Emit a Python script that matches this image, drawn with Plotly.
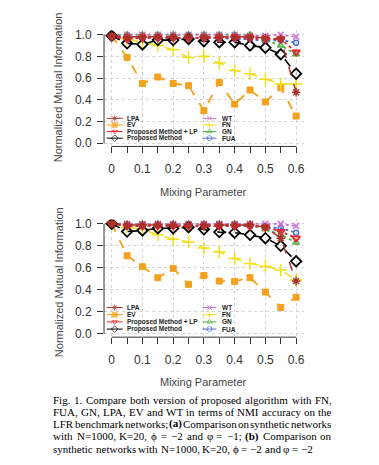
import plotly.graph_objects as go

# ---------------- data ----------------
mixing = [0, 0.05, 0.1, 0.15, 0.2, 0.25, 0.3, 0.35, 0.4, 0.45, 0.5, 0.55, 0.6]
x_tick_vals = [0, 0.1, 0.2, 0.3, 0.4, 0.5, 0.6]
x_tick_text = ["0", "0.1", "0.2", "0.3", "0.4", "0.5", "0.6"]
x_minor_vals = [0.05, 0.15, 0.25, 0.35, 0.45, 0.55]
y_tick_vals = [0, 0.2, 0.4, 0.6, 0.8, 1.0]
y_tick_text = ["0.0", "0.2", "0.4", "0.6", "0.8", "1.0"]

# (a) phi=-2, varphi=-1
a_lpa = [0.99, 0.98, 0.98, 0.98, 0.98, 0.98, 0.98, 0.98, 0.98, 0.98, 0.97, 0.96, 0.47]
a_ev = [0.99, 0.79, 0.55, 0.61, 0.55, 0.53, 0.30, 0.56, 0.36, 0.49, 0.38, 0.51, 0.25]
a_plp = [0.98, 0.96, 0.97, 0.97, 0.97, 0.97, 0.97, 0.97, 0.97, 0.97, 0.96, 0.96, 0.84]
a_pm = [0.99, 0.92, 0.91, 0.95, 0.95, 0.96, 0.94, 0.93, 0.93, 0.90, 0.88, 0.82, 0.64]
a_wt = [0.99, 1.0, 1.0, 1.0, 1.0, 1.0, 1.0, 1.0, 1.0, 0.99, 0.99, 1.0, 0.98]
a_fn = [0.99, 0.96, 0.93, 0.90, 0.86, 0.79, 0.80, 0.74, 0.67, 0.64, 0.59, 0.545, 0.545]
a_gn = [1.0, 1.0, 1.0, 1.0, 1.0, 1.0, 1.0, 1.0, 1.0, 1.0, 0.95, 0.90, 0.82]
a_fua = [0.98, 0.97, 0.97, 0.97, 0.97, 0.97, 0.97, 0.97, 0.96, 0.96, 0.94, 0.95, 0.925]

# (b) phi=-2, varphi=-2
b_lpa = [1.0, 0.99, 0.99, 0.99, 0.99, 0.99, 0.99, 0.99, 0.99, 0.99, 0.97, 0.87, 0.48]
b_ev = [1.0, 0.71, 0.61, 0.51, 0.595, 0.45, 0.53, 0.48, 0.477, 0.51, 0.38, 0.24, 0.333]
b_plp = [1.0, 0.98, 0.98, 0.98, 0.98, 0.98, 0.98, 0.98, 0.98, 0.98, 0.97, 0.93, 0.87]
b_pm = [1.0, 0.93, 0.94, 0.96, 0.96, 0.97, 0.95, 0.925, 0.92, 0.90, 0.87, 0.80, 0.66]
b_wt = [1.0, 1.0, 1.0, 1.0, 1.0, 1.0, 1.0, 1.0, 1.0, 1.0, 1.0, 1.0, 0.98]
b_fn = [1.0, 0.97, 0.95, 0.90, 0.86, 0.835, 0.78, 0.745, 0.685, 0.64, 0.615, 0.58, 0.49]
b_gn = [1.0, 1.0, 1.0, 1.0, 1.0, 1.0, 1.0, 1.0, 1.0, 1.0, 0.95, 0.90, 0.83]
b_fua = [0.99, 0.99, 0.99, 0.99, 0.99, 0.99, 0.99, 0.99, 0.99, 0.98, 0.97, 0.96, 0.92]

series_names = ["LPA", "EV", "Proposed Method + LP", "Proposed Method", "WT", "FN", "GN", "FUA"]
caption_lines = [
    "Fig. 1. Compare both version of proposed algorithm with FN,",
    "FUA, GN, LPA, EV and WT in terms of NMI accuracy on the",
    "LFR benchmark networks; <b>(a)</b> Comparison on synthetic networks",
    "with N=1000, K=20, ϕ = −2 and φ = −1; <b>(b)</b> Comparison on",
    "synthetic networks with N=1000, K=20, ϕ = −2 and φ = −2",
]

# ---------------- geometry (page has an 8px body margin) ----------------
OFF = 8
W, H = 379 - 2 * OFF, 465 - 2 * OFF

def fx(x):
    return (x - OFF) / W

def fy(y):
    return 1 - (y - OFF) / H

# ---------------- styles ----------------
STY = {
    "LPA": dict(color="#A8322B", symbol="asterisk-open", size=7, mlw=1.5, dash="dash", lw=1.5),
    "EV": dict(color="#F4A21E", symbol="square", size=6, mlw=1, dash="dash", lw=1.8),
    "Proposed Method + LP": dict(color="#E8262C", symbol="triangle-down-open", size=7, mlw=1.8, dash="dot", lw=1.8),
    "Proposed Method": dict(color="#000000", symbol="diamond-open", size=8, mlw=1.8, dash="dash", lw=1.6),
    "WT": dict(color="#C86FD0", symbol="x-thin-open", size=6, mlw=1.5, dash="dot", lw=1.8),
    "FN": dict(color="#F1DE1C", symbol="cross-thin-open", size=9, mlw=1.5, dash="dash", lw=1.5),
    "GN": dict(color="#4FAF48", symbol="triangle-up-open", size=6, mlw=1.4, dash="dot", lw=1.8),
    "FUA": dict(color="#4A6BC8", symbol="circle-open", size=5, mlw=1.4, dash="dot", lw=1.8),
}
draw_order = ["EV", "FN", "FUA", "GN", "WT", "Proposed Method", "Proposed Method + LP", "LPA"]

panels = [
    dict(xa="x", ya="y", data=dict(zip(series_names, [a_lpa, a_ev, a_plp, a_pm, a_wt, a_fn, a_gn, a_fua]))),
    dict(xa="x2", ya="y2", data=dict(zip(series_names, [b_lpa, b_ev, b_plp, b_pm, b_wt, b_fn, b_gn, b_fua]))),
]

fig = go.Figure()
for p in panels:
    for name in draw_order:
        s = STY[name]
        fig.add_trace(go.Scatter(
            x=mixing, y=p["data"][name], xaxis=p["xa"], yaxis=p["ya"],
            mode="lines+markers", name=name, showlegend=False,
            line=dict(color=s["color"], width=s["lw"], dash=s["dash"]),
            marker=dict(symbol=s["symbol"], size=s["size"], color=s["color"],
                        line=dict(color=s["color"], width=s["mlw"])),
        ))

# ---------------- manual legends (pixel overlay axis) ----------------
legend_rows = {"top": [117.8, 124.5, 131.2, 137.9], "bottom": [309.5, 316.8, 324.1, 331.4]}
col_specs = [
    (107, 115, 123, 127, ["LPA", "EV", "Proposed Method + LP", "Proposed Method"]),
    (203, 210, 217, 223, ["WT", "FN", "GN", "FUA"]),
]
annotations = []
for key, rows in legend_rows.items():
    for (x0, xm, x1, xt, names) in col_specs:
        for yy, name in zip(rows, names):
            s = STY[name]
            fig.add_trace(go.Scatter(
                x=[x0 - OFF, xm - OFF, x1 - OFF], y=[yy - OFF] * 3, xaxis="x3", yaxis="y3",
                mode="lines+markers", showlegend=False, hoverinfo="skip",
                line=dict(color=s["color"], width=1),
                marker=dict(symbol=s["symbol"], size=[0, 5, 0], color=s["color"],
                            line=dict(color=s["color"], width=1)),
            ))
            annotations.append(dict(
                x=fx(xt), y=fy(yy), xref="paper", yref="paper",
                text="<b>" + name + "</b>", showarrow=False, xanchor="left", yanchor="middle",
                font=dict(family="Liberation Sans", size=6.5, color="#222222"),
                borderpad=0, borderwidth=0,
            ))

# ---------------- axes ----------------
AX_FONT = dict(family="Liberation Sans", size=12, color="#333333")
x_dom = [fx(104.3), fx(304.6)]
y_dom_top = [fy(146.3), fy(28.6)]
y_dom_bot = [fy(339.6), fy(220.3)]

def xaxis(anchor):
    return dict(domain=x_dom, range=[-0.025, 0.625], anchor=anchor,
                tickmode="array", tickvals=x_tick_vals, ticktext=x_tick_text,
                ticks="outside", ticklen=6, tickwidth=1, tickcolor="#333333",
                ticklabelstandoff=5, tickfont=AX_FONT,
                showgrid=True, gridcolor="#D4D4D4", griddash="dot", gridwidth=1,
                minor=dict(tickvals=x_minor_vals, ticks="outside", ticklen=6, tickwidth=1,
                           tickcolor="#333333", showgrid=False),
                showline=False, zeroline=False, fixedrange=True)

def yaxis(anchor, dom):
    return dict(domain=dom, range=[-0.03, 1.04], anchor=anchor,
                tickmode="array", tickvals=y_tick_vals, ticktext=y_tick_text,
                ticks="outside", ticklen=6, tickwidth=1, tickcolor="#333333",
                ticklabelstandoff=3, tickfont=AX_FONT,
                showgrid=True, gridcolor="#D4D4D4", griddash="dot", gridwidth=1,
                showline=False, zeroline=False, fixedrange=True)

shapes = []
for xa, ya in [("x", "y"), ("x2", "y2")]:
    shapes.append(dict(type="line", xref=xa, yref=ya + " domain", x0=0, x1=0.6, y0=0, y1=0,
                       line=dict(color="#333333", width=1)))
    shapes.append(dict(type="line", xref=xa + " domain", yref=ya, x0=0, x1=0, y0=0, y1=1,
                       line=dict(color="#333333", width=1)))

TITLE_FONT = dict(family="Liberation Sans", size=11, color="#444444")
for ycen in [86.5, 284]:
    annotations.append(dict(x=fx(59), y=fy(ycen), xref="paper", yref="paper",
                            text="Normalized Mutual Information", textangle=-90, showarrow=False,
                            xanchor="center", yanchor="middle", font=TITLE_FONT))
for ycen in [192, 385]:
    annotations.append(dict(x=fx(204.5), y=fy(ycen), xref="paper", yref="paper",
                            text="Mixing Parameter", showarrow=False,
                            xanchor="center", yanchor="middle", font=TITLE_FONT))

# ---------------- caption (justified with Times metrics) ----------------
TW = {" ": 250, "(": 333, ")": 333, "+": 564, ",": 250, "-": 333, ".": 250, ":": 278, ";": 278,
      "=": 564, "−": 564, "ϕ": 520, "φ": 520}
TW.update({d: 500 for d in "0123456789"})
TW.update(dict(zip("ABCDEFGHIJKLMNOPQRSTUVWXYZ",
                   [722, 667, 667, 722, 611, 556, 722, 722, 333, 389, 722, 611, 889, 722, 722, 556,
                    722, 667, 556, 611, 722, 722, 944, 722, 722, 611])))
TW.update(dict(zip("abcdefghijklmnopqrstuvwxyz",
                   [444, 500, 444, 500, 444, 333, 500, 500, 278, 278, 500, 278, 778, 500, 500, 500,
                    500, 333, 389, 278, 500, 500, 722, 500, 500, 444])))
TWB = {"(": 333, ")": 333, "a": 500, "b": 556}

CAP_SIZE = 11
CAP_LEFT, CAP_RIGHT = 53.3, 332.3
cap_y = [403.3, 415.3, 427.6, 440.0, 452.5]

def word_width(w):
    bold = w.startswith("<b>")
    t = w.replace("<b>", "").replace("</b>", "")
    tot = 0
    for ch in t:
        tot += (TWB.get(ch, TW.get(ch, 500)) if bold else TW.get(ch, 500))
    return tot / 1000 * CAP_SIZE

for i, (line, yy) in enumerate(zip(caption_lines, cap_y)):
    words = line.split(" ")
    widths = [word_width(w) for w in words]
    justify = i < len(caption_lines) - 1
    if justify and len(words) > 1:
        gap = (CAP_RIGHT - CAP_LEFT - sum(widths)) / (len(words) - 1)
    else:
        gap = TW[" "] / 1000 * CAP_SIZE
    xx = CAP_LEFT
    for w, wd in zip(words, widths):
        annotations.append(dict(x=fx(xx), y=fy(yy), xref="paper", yref="paper", text=w,
                                showarrow=False, xanchor="left", yanchor="middle",
                                font=dict(family="Liberation Serif", size=CAP_SIZE, color="#000000"),
                                borderpad=0, borderwidth=0))
        xx += wd + gap

fig.update_layout(
    width=W, height=H, margin=dict(l=0, r=0, t=0, b=0),
    paper_bgcolor="white", plot_bgcolor="rgba(0,0,0,0)", showlegend=False,
    xaxis=xaxis("y"), yaxis=yaxis("x", y_dom_top),
    xaxis2=xaxis("y2"), yaxis2=yaxis("x2", y_dom_bot),
    xaxis3=dict(domain=[0, 1], range=[0, W], anchor="y3", visible=False, fixedrange=True),
    yaxis3=dict(domain=[0, 1], range=[H, 0], anchor="x3", visible=False, fixedrange=True),
    shapes=shapes, annotations=annotations,
)

fig.write_html("out.html")
